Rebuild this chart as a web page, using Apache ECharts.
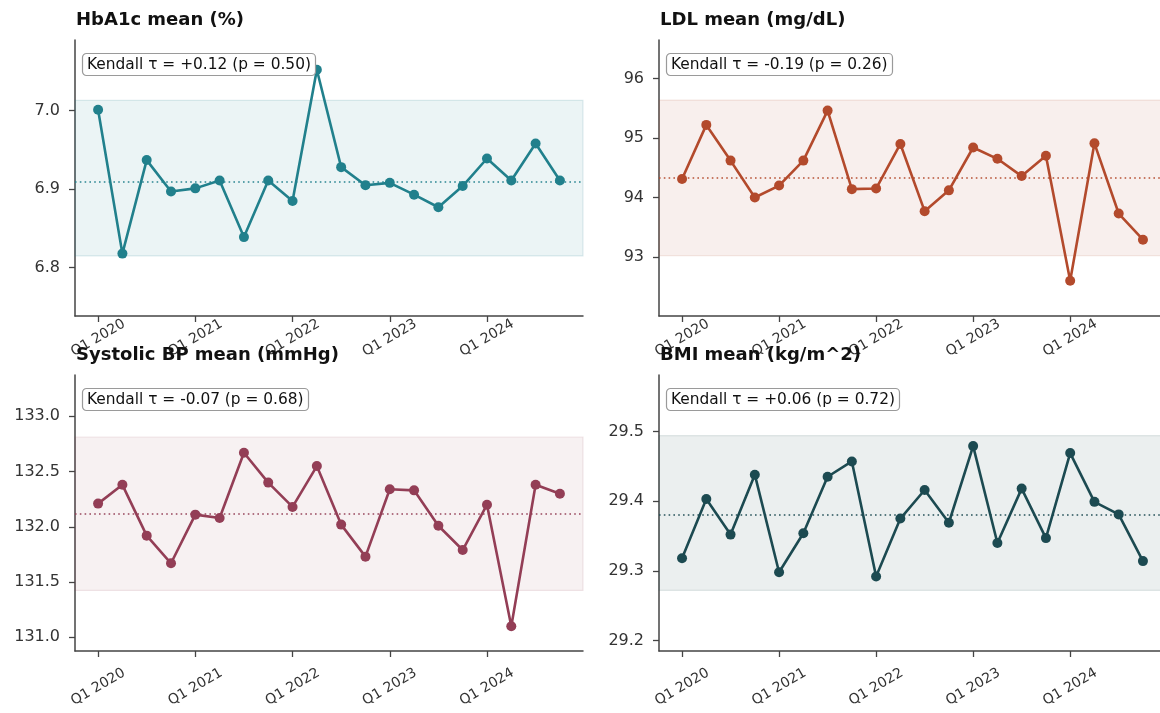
<!DOCTYPE html>
<html>
<head>
<meta charset="utf-8">
<title>Quarterly clinical means</title>
<script src="https://cdn.jsdelivr.net/npm/echarts@6/dist/echarts.min.js"></script>
<style>
  html, body { margin: 0; padding: 0; background: #ffffff; }
  #chart { width: 1160px; height: 713px; }
</style>
</head>
<body>
<div id="chart"></div>
<script>
// Quarter labels, Q1 2020 .. Q4 2024
const quarters = [
  'Q1 2020', 'Q2 2020', 'Q3 2020', 'Q4 2020',
  'Q1 2021', 'Q2 2021', 'Q3 2021', 'Q4 2021',
  'Q1 2022', 'Q2 2022', 'Q3 2022', 'Q4 2022',
  'Q1 2023', 'Q2 2023', 'Q3 2023', 'Q4 2023',
  'Q1 2024', 'Q2 2024', 'Q3 2024', 'Q4 2024'
];
// Quarter indices that carry a tick and label
const xTickIdx = [0, 4, 8, 12, 16];

// Quarterly means per measure
const hba1c = [7.001, 6.818, 6.937, 6.897, 6.901, 6.911, 6.839, 6.911, 6.885, 7.052,
               6.928, 6.905, 6.908, 6.893, 6.877, 6.904, 6.939, 6.911, 6.958, 6.911];
const ldl   = [94.31, 95.22, 94.62, 94.00, 94.20, 94.62, 95.46, 94.14, 94.15, 94.90,
               93.77, 94.12, 94.84, 94.65, 94.36, 94.70, 92.60, 94.91, 93.73, 93.29];
const sbp   = [132.21, 132.38, 131.92, 131.67, 132.11, 132.08, 132.67, 132.40, 132.18, 132.55,
               132.02, 131.73, 132.34, 132.33, 132.01, 131.79, 132.20, 131.10, 132.38, 132.30];
const bmi   = [29.318, 29.403, 29.352, 29.438, 29.298, 29.354, 29.435, 29.457, 29.292, 29.375,
               29.416, 29.369, 29.479, 29.340, 29.418, 29.347, 29.469, 29.399, 29.381, 29.314];

// Control bands (lower, upper)
const hba1cBand = [6.815, 7.013];
const ldlBand   = [93.024, 95.638];
const sbpBand   = [131.424, 132.813];
const bmiBand   = [29.272, 29.494];

// Y tick values
const hba1cTicks = [6.8, 6.9, 7.0];
const ldlTicks   = [93, 94, 95, 96];
const sbpTicks   = [131.0, 131.5, 132.0, 132.5, 133.0];
const bmiTicks   = [29.2, 29.3, 29.4, 29.5];

// Panel headings and trend-test annotations
const titles  = ['HbA1c mean (%)', 'LDL mean (mg/dL)', 'Systolic BP mean (mmHg)', 'BMI mean (kg/m^2)'];
const kendall = ['Kendall τ = +0.12 (p = 0.50)', 'Kendall τ = -0.19 (p = 0.26)',
                 'Kendall τ = -0.07 (p = 0.68)', 'Kendall τ = +0.06 (p = 0.72)'];

const panels = [
  { values: hba1c, band: hba1cBand, ticks: hba1cTicks, digits: 1, ymin: 6.7386, ymax: 7.0898,
    color: '#21808c', fill: 'rgba(33,128,140,0.09)', edge: 'rgba(33,128,140,0.14)' },
  { values: ldl, band: ldlBand, ticks: ldlTicks, digits: 0, ymin: 92.008, ymax: 96.647,
    color: '#b34a2c', fill: 'rgba(179,74,44,0.085)', edge: 'rgba(179,74,44,0.13)' },
  { values: sbp, band: sbpBand, ticks: sbpTicks, digits: 1, ymin: 130.876, ymax: 133.374,
    color: '#933e56', fill: 'rgba(147,62,86,0.075)', edge: 'rgba(147,62,86,0.12)' },
  { values: bmi, band: bmiBand, ticks: bmiTicks, digits: 1, ymin: 29.185, ymax: 29.581,
    color: '#1c4a51', fill: 'rgba(28,74,81,0.09)', edge: 'rgba(28,74,81,0.13)' }
];

// 2 x 2 layout of plotting areas; labelGap is the x-label offset below each axis
const grids = [
  { left: 75,  top: 40,  width: 508, height: 276 },
  { left: 659, top: 40,  width: 507, height: 276 },
  { left: 75,  top: 375, width: 508, height: 276 },
  { left: 659, top: 375, width: 507, height: 276 }
];
const labelGap = [22, 22, 36, 36];

const FONT = "'DejaVu Sans', sans-serif";
const AXIS = '#444444';

const mean = arr => arr.reduce((s, v) => s + v, 0) / arr.length;

const option = {
  backgroundColor: '#ffffff',
  animation: false,
  title: [],
  grid: grids.map(g => Object.assign({ outerBoundsMode: 'none', containLabel: false }, g)),
  xAxis: [],
  yAxis: [],
  series: []
};

panels.forEach((p, i) => {
  const g = grids[i];

  option.title.push({
    text: titles[i],
    left: g.left + 1,
    top: g.top - 30,
    padding: 0,
    textStyle: { fontFamily: FONT, fontSize: 18, fontWeight: 'bold', color: '#111111', lineHeight: 20 }
  });
  option.title.push({
    text: kendall[i],
    left: g.left + 7,
    top: g.top + 13,
    z: 10,
    padding: [3, 5],
    backgroundColor: '#ffffff',
    borderColor: '#9a9a9a',
    borderWidth: 1.2,
    borderRadius: 4,
    textStyle: { fontFamily: FONT, fontSize: 15.4, fontWeight: 'normal', color: '#111111', lineHeight: 17 }
  });

  option.xAxis.push({
    type: 'value',
    gridIndex: i,
    min: -0.95,
    max: 19.95,
    splitLine: { show: false },
    axisLine: { show: true, onZero: false, lineStyle: { color: AXIS, width: 1.5 } },
    axisTick: { show: true, customValues: xTickIdx, length: 6, lineStyle: { color: AXIS, width: 1.3 } },
    axisLabel: {
      customValues: xTickIdx,
      formatter: v => quarters[Math.round(v)],
      rotate: 30,
      align: 'center',
      verticalAlign: 'middle',
      margin: labelGap[i],
      fontFamily: FONT,
      fontSize: 14,
      color: '#333333'
    }
  });

  option.yAxis.push({
    type: 'value',
    gridIndex: i,
    min: p.ymin,
    max: p.ymax,
    splitLine: { show: false },
    axisLine: { show: true, onZero: false, lineStyle: { color: AXIS, width: 1.5 } },
    axisTick: { show: true, customValues: p.ticks, length: 6, lineStyle: { color: AXIS, width: 1.3 } },
    axisLabel: {
      customValues: p.ticks,
      formatter: v => Number(v).toFixed(p.digits),
      margin: 15,
      fontFamily: FONT,
      fontSize: 16,
      color: '#333333'
    }
  });

  option.series.push({
    type: 'line',
    xAxisIndex: i,
    yAxisIndex: i,
    data: p.values.map((v, k) => [k, v]),
    symbol: 'circle',
    symbolSize: 10,
    showSymbol: true,
    lineStyle: { color: p.color, width: 2.6 },
    itemStyle: { color: p.color, borderWidth: 0 },
    z: 3,
    markArea: {
      silent: true,
      itemStyle: { color: p.fill, borderColor: p.edge, borderWidth: 1.2 },
      data: [[{ yAxis: p.band[0] }, { yAxis: p.band[1] }]]
    },
    markLine: {
      silent: true,
      symbol: ['none', 'none'],
      label: { show: false },
      lineStyle: { color: p.color, width: 1.6, type: [1.6, 3.2], opacity: 0.95 },
      data: [{ yAxis: mean(p.values) }]
    }
  });
});

const chart = echarts.init(document.getElementById('chart'), null, { renderer: 'canvas' });
chart.setOption(option);
</script>
</body>
</html>
